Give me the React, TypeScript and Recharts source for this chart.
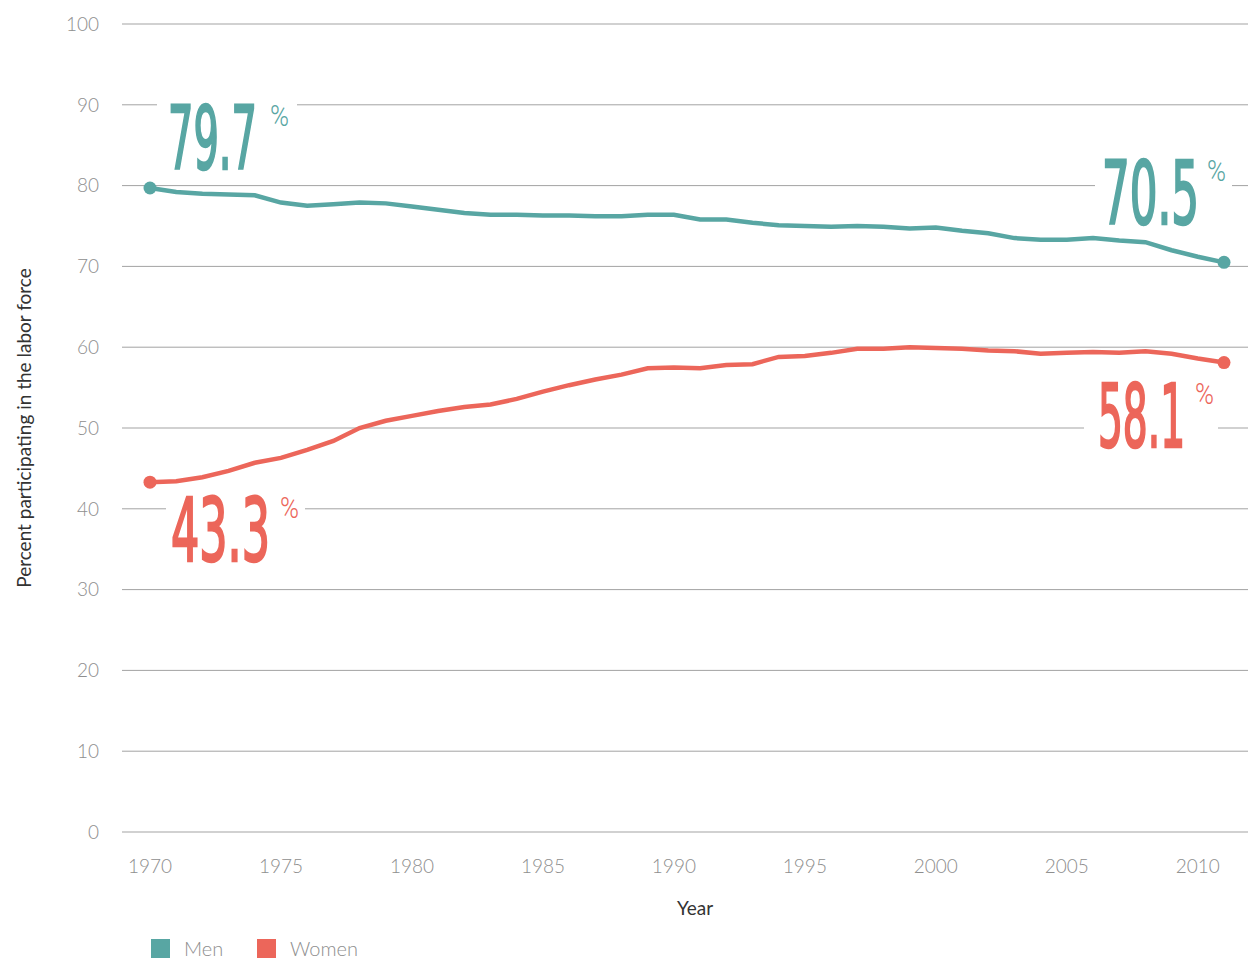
import React from "react";
import {
  LineChart,
  Line,
  XAxis,
  YAxis,
  CartesianGrid,
  LabelList,
  Label,
} from "recharts";

const YEARS = [
  1970, 1971, 1972, 1973, 1974, 1975, 1976, 1977, 1978, 1979,
  1980, 1981, 1982, 1983, 1984, 1985, 1986, 1987, 1988, 1989,
  1990, 1991, 1992, 1993, 1994, 1995, 1996, 1997, 1998, 1999,
  2000, 2001, 2002, 2003, 2004, 2005, 2006, 2007, 2008, 2009,
  2010, 2011,
];

const MEN = [
  79.7, 79.2, 79.0, 78.9, 78.8, 77.9, 77.5, 77.7, 77.9, 77.8,
  77.4, 77.0, 76.6, 76.4, 76.4, 76.3, 76.3, 76.2, 76.2, 76.4,
  76.4, 75.8, 75.8, 75.4, 75.1, 75.0, 74.9, 75.0, 74.9, 74.7,
  74.8, 74.4, 74.1, 73.5, 73.3, 73.3, 73.5, 73.2, 73.0, 72.0,
  71.2, 70.5,
];

const WOMEN = [
  43.3, 43.4, 43.9, 44.7, 45.7, 46.3, 47.3, 48.4, 50.0, 50.9,
  51.5, 52.1, 52.6, 52.9, 53.6, 54.5, 55.3, 56.0, 56.6, 57.4,
  57.5, 57.4, 57.8, 57.9, 58.8, 58.9, 59.3, 59.8, 59.8, 60.0,
  59.9, 59.8, 59.6, 59.5, 59.2, 59.3, 59.4, 59.3, 59.5, 59.2,
  58.6, 58.1,
];

const X_TICKS = [1970, 1975, 1980, 1985, 1990, 1995, 2000, 2005, 2010];
const Y_TICKS = [0, 10, 20, 30, 40, 50, 60, 70, 80, 90, 100];

const TEAL = "#58a6a3";
const CORAL = "#ec665a";
const GRID = "#a3a3a3";
const TICK = "#8e8e8e";
const FONT = "Lato, 'Open Sans', sans-serif";
const BIG_FONT = "'Liberation Sans Narrow', 'DejaVu Sans Condensed', Roboto, sans-serif";

const data = YEARS.map((year, i) => ({ year, men: MEN[i], women: WOMEN[i] }));
const LAST = YEARS.length - 1;

// big number callouts: offsets from the end point (number left edge / baseline)
type Spot = { dx: number; dy: number; w: number; pct: number; l: number; r: number };

const MEN_SPOTS: Record<string, Spot> = {
  first: { dx: 17, dy: -18, w: 91, pct: 103, l: -10, r: 130 },
  last: { dx: -123, dy: -37, w: 99, pct: 106, l: -6, r: 131 },
};
const WOMEN_SPOTS: Record<string, Spot> = {
  first: { dx: 20, dy: 80, w: 101, pct: 110, l: -4, r: 135 },
  last: { dx: -127, dy: 85, w: 89, pct: 98, l: -13, r: 121 },
};

const endDot = (color: string) => (props: any) => {
  const { cx, cy, index } = props;
  if (index !== 0 && index !== LAST) return <g key={`d-${index}`} />;
  return <circle key={`d-${index}`} cx={cx} cy={cy} r={6.5} fill={color} />;
};

const endLabel = (color: string, spots: Record<string, Spot>) => (props: any) => {
  const { x, y, index, value } = props;
  const spot = index === 0 ? spots.first : index === LAST ? spots.last : null;
  if (!spot) return null;
  const left = x + spot.dx;
  const base = y + spot.dy;
  return (
    <g key={`l-${index}`}>
      <rect x={left + spot.l} y={base - 72} width={spot.r - spot.l} height={76} fill="#fff" />
      <text
        x={left + 1}
        y={base - 1}
        fill={color}
        stroke={color}
        strokeWidth={2.6}
        fontFamily={BIG_FONT}
        fontWeight={400}
        fontSize={88}
        textLength={spot.w - 2}
        lengthAdjust="spacingAndGlyphs"
      >
        {Number(value).toFixed(1)}
      </text>
      <text
        x={left + spot.pct}
        y={base - 44}
        fill={color}
        fontFamily="Roboto, sans-serif"
        fontWeight={300}
        fontSize={29}
        textLength={19}
        lengthAdjust="spacingAndGlyphs"
      >
        %
      </text>
    </g>
  );
};

function LegendBox() {
  const items = [
    { name: "Men", color: TEAL, left: 151 },
    { name: "Women", color: CORAL, left: 257 },
  ];
  return (
    <>
      {items.map((it) => (
        <div
          key={it.name}
          style={{
            position: "absolute",
            left: it.left,
            top: 938,
            display: "flex",
            alignItems: "center",
            fontFamily: FONT,
            fontWeight: 300,
            fontSize: 20,
            color: TICK,
            lineHeight: "20px",
          }}
        >
          <span style={{ width: 19, height: 19, background: it.color, marginRight: 14, display: "inline-block" }} />
          {it.name}
        </div>
      ))}
    </>
  );
}

export default function App() {
  return (
    <div style={{ position: "absolute", left: 0, top: 0, width: 1248, height: 958, background: "#fff", fontFamily: FONT }}>
      <LineChart width={1248} height={958} data={data} margin={{ top: 24, right: 0, bottom: 36, left: 0 }}>
        <CartesianGrid vertical={false} stroke={GRID} />
        <XAxis
          dataKey="year"
          type="number"
          domain={[1970, 2011]}
          ticks={X_TICKS}
          padding={{ left: 28, right: 24 }}
          axisLine={false}
          tickLine={false}
          tickMargin={22}
          height={90}
          tick={{ fill: TICK, fontSize: 19, fontWeight: 300, fontFamily: FONT }}
        >
          <Label
            value="Year"
            position="insideBottom"
            offset={7}
            dx={10}
            fill="#333"
            fontSize={19}
            fontFamily={FONT}
          />
        </XAxis>
        <YAxis
          domain={[0, 100]}
          ticks={Y_TICKS}
          width={122}
          axisLine={false}
          tickLine={false}
          tickMargin={17}
          tick={{ fill: TICK, fontSize: 19, fontWeight: 300, fontFamily: FONT }}
        >
          <Label
            value="Percent participating in the labor force"
            angle={-90}
            position="insideLeft"
            offset={24}
            style={{ textAnchor: "middle" }}
            fill="#333"
            fontSize={19}
            fontFamily={FONT}
          />
        </YAxis>
        <Line
          type="linear"
          dataKey="men"
          stroke={TEAL}
          strokeWidth={4.5}
          dot={endDot(TEAL)}
          activeDot={false}
          isAnimationActive={false}
        >
          <LabelList dataKey="men" content={endLabel(TEAL, MEN_SPOTS)} />
        </Line>
        <Line
          type="linear"
          dataKey="women"
          stroke={CORAL}
          strokeWidth={4.5}
          dot={endDot(CORAL)}
          activeDot={false}
          isAnimationActive={false}
        >
          <LabelList dataKey="women" content={endLabel(CORAL, WOMEN_SPOTS)} />
        </Line>
      </LineChart>
      <LegendBox />
    </div>
  );
}
